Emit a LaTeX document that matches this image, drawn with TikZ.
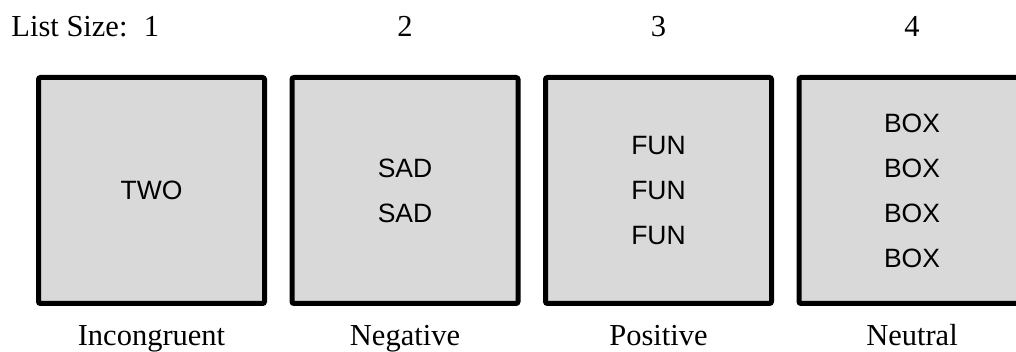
\documentclass[tikz,border=0pt]{standalone}
\usepackage{fontspec}
\setmainfont{Liberation Serif}
\newfontfamily\boxfont{Liberation Sans}
\usepackage{xcolor}
\usepackage{tikz}
\usetikzlibrary{positioning}

\definecolor{cellgray}{HTML}{D9D9D9}

\begin{document}
\begin{tikzpicture}[x=1pt, y=1pt,
        cell/.style={rectangle, draw, line width=5pt, fill=cellgray, rounded corners=2pt, minimum width=226pt, minimum height=226pt, inner sep=0pt, outer sep=0pt, align=center, font={\boxfont\fontsize{26.5}{45}\selectfont}},
        sizelbl/.style={inner sep=0pt, text height=20pt, text depth=0pt, font={\fontsize{30.5}{36}\selectfont}},
        condlbl/.style={inner sep=0pt, text height=20pt, text depth=7pt, font={\fontsize{30.5}{36}\selectfont}}]
        
        \useasboundingbox (0,0) rectangle (1016,352);
        
        \node (b1) [cell] at (151.5,161.5) {TWO};
        \node (b2) [cell, right=27.5pt of b1] {SAD\\SAD};
        \node (b3) [cell, right=27.5pt of b2] {FUN\\FUN\\FUN};
        \node (b4) [cell, right=27.5pt of b3] {BOX\\BOX\\BOX\\BOX};
        
        \node (s1) [sizelbl, above=40.5pt of b1] {1};
        \node (s2) [sizelbl, above=40.5pt of b2] {2};
        \node (s3) [sizelbl, above=40.5pt of b3] {3};
        \node (s4) [sizelbl, above=40.5pt of b4] {4};
        \node (lst) [sizelbl, left=16pt of s1] {List Size:};
        
        \node (c1) [condlbl, below=21.5pt of b1] {Incongruent};
        \node (c2) [condlbl, below=21.5pt of b2] {Negative};
        \node (c3) [condlbl, below=21.5pt of b3] {Positive};
        \node (c4) [condlbl, below=21.5pt of b4] {Neutral};
    \end{tikzpicture}
\end{document}
